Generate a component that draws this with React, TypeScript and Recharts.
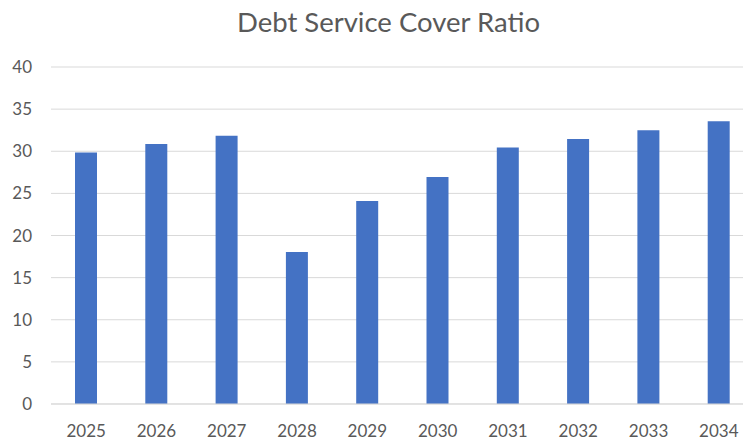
import { BarChart, Bar, XAxis, YAxis, CartesianGrid } from "recharts";

const years = ["2025", "2026", "2027", "2028", "2029", "2030", "2031", "2032", "2033", "2034"];
const dscr = [29.85, 30.85, 31.85, 18.05, 24.1, 26.95, 30.45, 31.45, 32.5, 33.55];
const yTicks = [0, 5, 10, 15, 20, 25, 30, 35, 40];

const data = years.map((year, i) => ({ year, value: dscr[i] }));

const textColor = "#595959";
const font = "Lato, 'Open Sans', sans-serif";

export default function App() {
  return (
    <div
      style={{
        position: "absolute",
        left: 0,
        top: 0,
        width: 743,
        height: 441,
        overflow: "hidden",
        background: "#fff",
        fontFamily: font,
      }}
    >
      {/* chart title */}
      <div
        style={{
          position: "absolute",
          left: 0,
          width: 777,
          top: 4,
          textAlign: "center",
          fontSize: 27.5,
          color: textColor,
          lineHeight: "36px",
        }}
      >
        Debt Service Cover Ratio
      </div>
      <BarChart
        width={755}
        height={441}
        data={data}
        margin={{ top: 67, right: 1, bottom: 0, left: 0 }}
        barSize={22}
      >
        <CartesianGrid vertical={false} stroke="#d9d9d9" strokeWidth={1} />
        <XAxis
          dataKey="year"
          height={37}
          tickLine={false}
          tickSize={0}
          tickMargin={21}
          axisLine={{ stroke: "#d9d9d9" }}
          tick={{ fill: textColor, fontSize: 17, fontFamily: font }}
        />
        <YAxis
          width={51}
          domain={[0, 40]}
          ticks={yTicks}
          tickLine={false}
          tickSize={0}
          tickMargin={19}
          axisLine={false}
          tick={{ fill: textColor, fontSize: 17, fontFamily: font }}
        />
        <Bar dataKey="value" fill="#4472c4" isAnimationActive={false} />
      </BarChart>
    </div>
  );
}
